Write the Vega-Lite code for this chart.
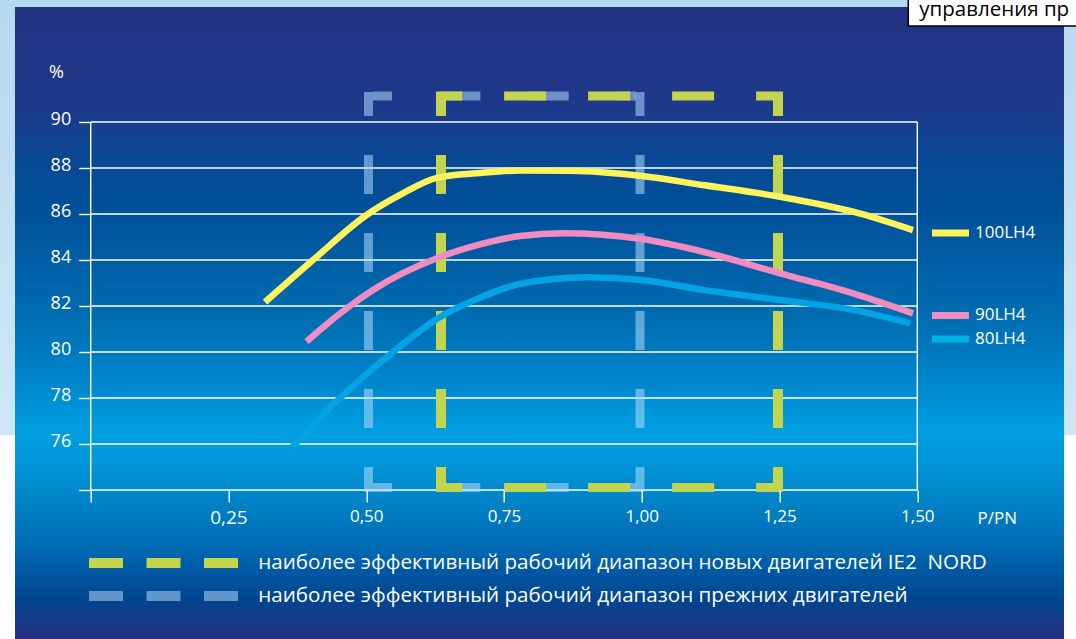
{
  "$schema": "https://vega.github.io/schema/vega-lite/v6.json",
  "width": 826.6,
  "height": 368,
  "autosize": {"type": "none"},
  "padding": {"left": 90.7, "top": 122, "right": 158.7, "bottom": 149},
  "background": "#ffffff",
  "config": {"view": {"stroke": null}, "font": "Open Sans"},
  "datasets": {
    "curves": [
      {"series": "100LH4", "p": 0.3163, "eff": 82.17},
      {"series": "100LH4", "p": 0.4034, "eff": 84.0},
      {"series": "100LH4", "p": 0.5032, "eff": 86.0},
      {"series": "100LH4", "p": 0.5613, "eff": 86.83},
      {"series": "100LH4", "p": 0.6284, "eff": 87.57},
      {"series": "100LH4", "p": 0.7064, "eff": 87.78},
      {"series": "100LH4", "p": 0.779, "eff": 87.89},
      {"series": "100LH4", "p": 0.8698, "eff": 87.88},
      {"series": "100LH4", "p": 1.0004, "eff": 87.65},
      {"series": "100LH4", "p": 1.1111, "eff": 87.26},
      {"series": "100LH4", "p": 1.2508, "eff": 86.75},
      {"series": "100LH4", "p": 1.3833, "eff": 86.1},
      {"series": "100LH4", "p": 1.4922, "eff": 85.3},
      {"series": "90LH4", "p": 0.3917, "eff": 80.45},
      {"series": "90LH4", "p": 0.4158, "eff": 80.96},
      {"series": "90LH4", "p": 0.4703, "eff": 82.0},
      {"series": "90LH4", "p": 0.5123, "eff": 82.7},
      {"series": "90LH4", "p": 0.6339, "eff": 84.13},
      {"series": "90LH4", "p": 0.7064, "eff": 84.68},
      {"series": "90LH4", "p": 0.779, "eff": 85.04},
      {"series": "90LH4", "p": 0.8571, "eff": 85.16},
      {"series": "90LH4", "p": 1.0004, "eff": 84.91},
      {"series": "90LH4", "p": 1.1111, "eff": 84.36},
      {"series": "90LH4", "p": 1.2508, "eff": 83.42},
      {"series": "90LH4", "p": 1.3833, "eff": 82.55},
      {"series": "90LH4", "p": 1.4922, "eff": 81.68},
      {"series": "80LH4", "p": 0.3658, "eff": 75.86},
      {"series": "80LH4", "p": 0.4524, "eff": 78.0},
      {"series": "80LH4", "p": 0.5486, "eff": 80.0},
      {"series": "80LH4", "p": 0.6339, "eff": 81.52},
      {"series": "80LH4", "p": 0.7064, "eff": 82.36},
      {"series": "80LH4", "p": 0.779, "eff": 82.96},
      {"series": "80LH4", "p": 0.9006, "eff": 83.25},
      {"series": "80LH4", "p": 1.0004, "eff": 83.13},
      {"series": "80LH4", "p": 1.1111, "eff": 82.7},
      {"series": "80LH4", "p": 1.2508, "eff": 82.26},
      {"series": "80LH4", "p": 1.3833, "eff": 81.83},
      {"series": "80LH4", "p": 1.4868, "eff": 81.25}
    ]
  },
  "encoding": {
    "x": {
      "type": "quantitative",
      "scale": {"domain": [0, 1.5], "nice": false, "zero": false},
      "axis": {
        "values": [0, 0.25, 0.5, 0.75, 1, 1.25, 1.5],
        "labelExpr": "datum.value == 0 ? '' : replace(format(datum.value, '.2f'), '.', ',')",
        "domain": false, "grid": false,
        "tickColor": "#ffffff", "tickSize": 12, "tickWidth": 1.4,
        "labelColor": "#ffffff",
        "labelFontSize": {"condition": {"test": "datum.value == 0.25", "value": 19}, "value": 17},
        "labelPadding": 6, "labelFlush": false, "labelOverlap": false,
        "title": "P/PN", "titleX": 886.3, "titleY": 28, "titleAlign": "left", "titleBaseline": "middle",
        "titleColor": "#ffffff", "titleFontSize": 17, "titleFontWeight": "normal",
        "zindex": 1
      }
    },
    "y": {
      "type": "quantitative",
      "scale": {"domain": [74, 90], "nice": false, "zero": false},
      "axis": {
        "values": [74, 76, 78, 80, 82, 84, 86, 88, 90],
        "labelExpr": "datum.value == 74 ? '' : datum.label",
        "domain": false, "grid": false,
        "tickColor": "#ffffff", "tickSize": 12, "tickWidth": 1.4,
        "labelColor": "#ffffff", "labelFontSize": 18, "labelPadding": 8, "labelOffset": -3,
        "title": "%", "titleAngle": 0, "titleX": -34.7, "titleY": -50, "titleAlign": "center", "titleBaseline": "middle",
        "titleColor": "#ffffff", "titleFontSize": 18, "titleFontWeight": "normal",
        "zindex": 1
      }
    }
  },
  "layer": [
    {
      "data": {"values": [{}]},
      "mark": {"type": "rect", "fill": {"gradient": "linear", "x1": 0, "y1": 0, "x2": 0, "y2": 1, "stops": [{"offset": 0, "color": "#b6d8ef"}, {"offset": 1, "color": "#cfe7f5"}]}},
      "encoding": {
        "x": {"datum": -0.17, "type": "quantitative"},
        "x2": {"datum": 1.8},
        "y": {"datum": 95.4, "type": "quantitative"},
        "y2": {"datum": 76.391}
      }
    },
    {
      "data": {"values": [{}]},
      "mark": {"type": "rect", "fill": {"gradient": "linear", "x1": 0, "y1": 0, "x2": 0, "y2": 1, "stops": [
        {"offset": 0, "color": "#233282"},
        {"offset": 0.147, "color": "#1f388a"},
        {"offset": 0.255, "color": "#064a94"},
        {"offset": 0.328, "color": "#00519b"},
        {"offset": 0.4, "color": "#005ea5"},
        {"offset": 0.473, "color": "#006aae"},
        {"offset": 0.546, "color": "#007abf"},
        {"offset": 0.619, "color": "#008fd4"},
        {"offset": 0.669, "color": "#009fe0"},
        {"offset": 0.717, "color": "#0096d8"},
        {"offset": 0.764, "color": "#0088ca"},
        {"offset": 0.812, "color": "#0078be"},
        {"offset": 0.845, "color": "#006db4"},
        {"offset": 0.88, "color": "#005ca8"},
        {"offset": 0.932, "color": "#00468f"},
        {"offset": 0.97, "color": "#1a3886"},
        {"offset": 1, "color": "#263080"}
      ]}},
      "encoding": {
        "x": {"datum": -0.13737, "type": "quantitative"},
        "x2": {"datum": 1.7662},
        "y": {"datum": 95.0, "type": "quantitative"},
        "y2": {"datum": 67.4}
      }
    },
    {
      "data": {"values": [{}]},
      "mark": {"type": "rect", "fill": "#ffffff", "stroke": "#000000", "strokeWidth": 1.5},
      "encoding": {
        "x": {"datum": 1.48366, "type": "quantitative"},
        "x2": {"datum": 1.82},
        "y": {"datum": 95.6, "type": "quantitative"},
        "y2": {"datum": 94.1739}
      }
    },
    {
      "data": {"values": [{"t": "управления пр"}]},
      "mark": {"type": "text", "align": "left", "baseline": "alphabetic", "fontSize": 20.5, "color": "#000000"},
      "encoding": {
        "x": {"datum": 1.50362, "type": "quantitative"},
        "y": {"datum": 94.6087, "type": "quantitative"},
        "text": {"field": "t"}
      }
    },
    {
      "data": {"values": [{"g": 74}, {"g": 76}, {"g": 78}, {"g": 80}, {"g": 82}, {"g": 84}, {"g": 86}, {"g": 88}, {"g": 90}]},
      "mark": {"type": "rule", "color": "#ffffff", "strokeWidth": 1.4},
      "encoding": {
        "x": {"datum": 0, "type": "quantitative"},
        "x2": {"datum": 1.5},
        "y": {"field": "g", "type": "quantitative"}
      }
    },
    {
      "data": {"values": [{"b": 0}, {"b": 1.5}]},
      "mark": {"type": "rule", "color": "#ffffff", "strokeWidth": 1.4},
      "encoding": {
        "x": {"field": "b", "type": "quantitative"},
        "y": {"datum": 74, "type": "quantitative"},
        "y2": {"datum": 90}
      }
    },
    {
      "data": {"values": [{"b": 0.5041}, {"b": 0.99678}]},
      "mark": {"type": "rule", "color": "#aedbfd", "strokeOpacity": 0.55, "strokeWidth": 9, "strokeDash": [39, 39], "strokeDashOffset": 15},
      "encoding": {
        "x": {"field": "b", "type": "quantitative"},
        "y": {"datum": 91.3043, "type": "quantitative"},
        "y2": {"datum": 73.913}
      }
    },
    {
      "data": {"values": [{"e": 91.1304}, {"e": 74.1087}]},
      "mark": {"type": "rule", "color": "#aedbfd", "strokeOpacity": 0.55, "strokeWidth": 9, "strokeDash": [40, 48.33], "strokeDashOffset": 21},
      "encoding": {
        "x": {"datum": 0.51227, "type": "quantitative"},
        "x2": {"datum": 0.98952},
        "y": {"field": "e", "type": "quantitative"}
      }
    },
    {
      "data": {"values": [{"b": 0.63567}, {"b": 1.24721}]},
      "mark": {"type": "rule", "color": "#c3d44f", "strokeWidth": 10, "strokeDash": [39, 39], "strokeDashOffset": 15},
      "encoding": {
        "x": {"field": "b", "type": "quantitative"},
        "y": {"datum": 91.3043, "type": "quantitative"},
        "y2": {"datum": 73.913}
      }
    },
    {
      "data": {"values": [{"e": 91.1304}, {"e": 74.1087}]},
      "mark": {"type": "rule", "color": "#c3d44f", "strokeWidth": 9, "strokeDash": [42, 42], "strokeDashOffset": 16},
      "encoding": {
        "x": {"datum": 0.62681, "type": "quantitative"},
        "x2": {"datum": 1.25627},
        "y": {"field": "e", "type": "quantitative"}
      }
    },
    {
      "data": {"name": "curves"},
      "mark": {"type": "line", "interpolate": "monotone", "strokeWidth": 6.5, "strokeCap": "butt"},
      "encoding": {
        "x": {"field": "p", "type": "quantitative"},
        "y": {"field": "eff", "type": "quantitative"},
        "color": {"field": "series", "type": "nominal", "scale": {"domain": ["100LH4", "90LH4", "80LH4"], "range": ["#fef35c", "#f08cbf", "#03a3e6"]}, "legend": null}
      }
    },
    {
      "data": {"values": [{}]},
      "mark": {"type": "rule", "color": "#fff35a", "strokeWidth": 7},
      "encoding": {
        "x": {"datum": 1.52667, "type": "quantitative"},
        "x2": {"datum": 1.59381},
        "y": {"datum": 85.174, "type": "quantitative"}
      }
    },
    {
      "data": {"values": [{}]},
      "mark": {"type": "rule", "color": "#f08cbf", "strokeWidth": 7},
      "encoding": {
        "x": {"datum": 1.52667, "type": "quantitative"},
        "x2": {"datum": 1.59381},
        "y": {"datum": 81.587, "type": "quantitative"}
      }
    },
    {
      "data": {"values": [{}]},
      "mark": {"type": "rule", "color": "#00b2ea", "strokeWidth": 7},
      "encoding": {
        "x": {"datum": 1.52667, "type": "quantitative"},
        "x2": {"datum": 1.59381},
        "y": {"datum": 80.565, "type": "quantitative"}
      }
    },
    {
      "data": {"values": [{"t": "100LH4", "v": 85.174}, {"t": "90LH4", "v": 81.587}, {"t": "80LH4", "v": 80.565}]},
      "mark": {"type": "text", "align": "left", "baseline": "middle", "fontSize": 17, "color": "#ffffff"},
      "encoding": {
        "x": {"datum": 1.60468, "type": "quantitative"},
        "y": {"field": "v", "type": "quantitative"},
        "text": {"field": "t"}
      }
    },
    {
      "data": {"values": [{}]},
      "mark": {"type": "rule", "color": "#c3d44f", "strokeWidth": 10, "strokeDash": [34, 23.5]},
      "encoding": {
        "x": {"datum": -0.00309, "type": "quantitative"},
        "x2": {"datum": 0.26731},
        "y": {"datum": 70.826, "type": "quantitative"}
      }
    },
    {
      "data": {"values": [{}]},
      "mark": {"type": "rule", "color": "#aedbfd", "strokeOpacity": 0.55, "strokeWidth": 10, "strokeDash": [34, 23.5]},
      "encoding": {
        "x": {"datum": -0.00309, "type": "quantitative"},
        "x2": {"datum": 0.26731},
        "y": {"datum": 69.391, "type": "quantitative"}
      }
    },
    {
      "data": {"values": [{"t": "наиболее эффективный рабочий диапазон новых двигателей IE2\u00a0 NORD", "v": 70.826}, {"t": "наиболее эффективный рабочий диапазон прежних двигателей", "v": 69.391}]},
      "mark": {"type": "text", "align": "left", "baseline": "middle", "fontSize": 20.6, "color": "#ffffff"},
      "encoding": {
        "x": {"datum": 0.30414, "type": "quantitative"},
        "y": {"field": "v", "type": "quantitative"},
        "text": {"field": "t"}
      }
    }
  ]
}
